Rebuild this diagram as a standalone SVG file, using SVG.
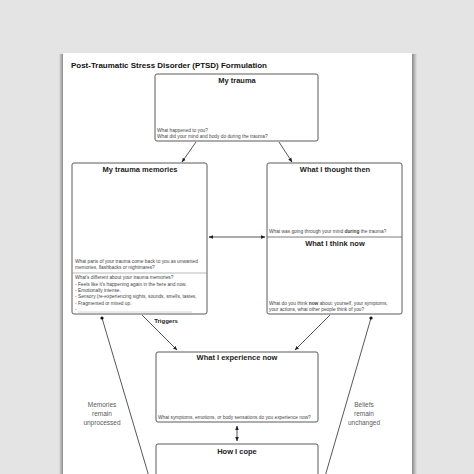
<svg xmlns="http://www.w3.org/2000/svg" width="474" height="474" viewBox="0 0 474 474">
<defs>
<style>
.box{fill:#fff;stroke:#5a5a5a;stroke-width:1}
.t{font-family:"Liberation Sans",Arial,sans-serif;font-weight:bold;font-size:7.5px;fill:#222;text-anchor:middle}
.s{font-family:"Liberation Sans",Arial,sans-serif;font-size:4.8px;fill:#444}
.lbl{font-family:"Liberation Sans",Arial,sans-serif;font-size:6.5px;fill:#5a5a5a;text-anchor:middle}
.con{stroke:#444;stroke-width:0.9;fill:none}
</style>
<marker id="ah" viewBox="0 0 10 10" refX="9" refY="5" markerWidth="5" markerHeight="5" orient="auto-start-reverse"><path d="M0,1 L10,5 L0,9 z" fill="#222"/></marker>
<marker id="dot" viewBox="0 0 10 10" refX="5" refY="5" markerWidth="4" markerHeight="4"><circle cx="5" cy="5" r="4.5" fill="#111"/></marker>
<linearGradient id="shL" x1="0" x2="1"><stop offset="0" stop-color="#e2e2e2"/><stop offset="1" stop-color="#8a8a8a"/></linearGradient>
<linearGradient id="shR" x1="0" x2="1"><stop offset="0" stop-color="#8a8a8a"/><stop offset="1" stop-color="#e2e2e2"/></linearGradient>
</defs>
<rect x="0" y="0" width="474" height="474" fill="#e4e4e4"/>
<rect x="59" y="54" width="4" height="420" fill="url(#shL)"/>
<rect x="412" y="54" width="5" height="420" fill="url(#shR)"/>
<rect x="63" y="53" width="349" height="421" fill="#fff"/>
<text x="71" y="68" font-family="'Liberation Sans',Arial,sans-serif" font-weight="bold" font-size="7.2px" fill="#111" textLength="196" lengthAdjust="spacingAndGlyphs">Post-Traumatic Stress Disorder (PTSD) Formulation</text>

<g id="connectors">
<line class="con" x1="196" y1="142" x2="182" y2="162" marker-end="url(#ah)"/>
<line class="con" x1="279" y1="142" x2="292" y2="162" marker-end="url(#ah)"/>
<line class="con" x1="209" y1="237" x2="265" y2="237" marker-start="url(#ah)" marker-end="url(#ah)"/>
<line class="con" x1="142" y1="315" x2="177" y2="350" marker-end="url(#ah)"/>
<line class="con" x1="330" y1="315" x2="295" y2="350" marker-end="url(#ah)"/>
<line class="con" x1="237" y1="426" x2="237" y2="441" marker-start="url(#ah)" marker-end="url(#ah)"/>
<line class="con" x1="150" y1="480" x2="102" y2="318" marker-end="url(#dot)"/>
<line class="con" x1="324" y1="480" x2="371" y2="318" marker-end="url(#dot)"/>
<text x="166" y="323" font-family="'Liberation Sans',Arial,sans-serif" font-weight="bold" font-size="6px" fill="#222" text-anchor="middle">Triggers</text>
<text class="lbl" x="102" y="407">Memories</text>
<text class="lbl" x="102" y="416">remain</text>
<text class="lbl" x="102" y="425">unprocessed</text>
<text class="lbl" x="364" y="407">Beliefs</text>
<text class="lbl" x="364" y="416">remain</text>
<text class="lbl" x="364" y="425">unchanged</text>
</g>

<g id="my-trauma">
<rect class="box" x="155" y="74" width="163" height="67" rx="2"/>
<text class="t" x="237" y="83">My trauma</text>
<text class="s" x="157" y="132">What happened to you?</text>
<text class="s" x="157" y="138">What did your mind and body do during the trauma?</text>
</g>

<g id="my-trauma-memories">
<rect class="box" x="72" y="163" width="135" height="151" rx="2"/>
<text class="t" x="140" y="172">My trauma memories</text>
<text class="s" x="75" y="263">What parts of your trauma come back to you as unwanted</text>
<text class="s" x="75" y="269">memories, flashbacks or nightmares?</text>
<line x1="72" y1="273" x2="207" y2="273" stroke="#8a8a8a" stroke-width="0.6"/>
<text class="s" x="75" y="279">What's different about your trauma memories?</text>
<text class="s" x="75" y="286">- Feels like it's happening again in the here and now.</text>
<text class="s" x="75" y="292">- Emotionally intense.</text>
<text class="s" x="75" y="298">- Sensory (re-experiencing sights, sounds, smells, tastes,</text>
<text class="s" x="75" y="305">- Fragmented or mixed up.</text>
<text class="s" x="75" y="311">-</text>
<line x1="78" y1="312" x2="192" y2="312" stroke="#aaa" stroke-width="0.5"/>
</g>

<g id="what-i-thought-then">
<rect class="box" x="267" y="163" width="135" height="151" rx="2"/>
<text class="t" x="335" y="172">What I thought then</text>
<text class="s" x="269" y="233">What was going through your mind <tspan font-weight="bold">during</tspan> the trauma?</text>
<line x1="267" y1="237" x2="402" y2="237" stroke="#5a5a5a" stroke-width="0.8"/>
</g>

<g id="what-i-think-now">
<text class="t" x="335" y="246">What I think now</text>
<text class="s" x="269" y="305">What do you think <tspan font-weight="bold">now</tspan> about: yourself, your symptoms,</text>
<text class="s" x="269" y="311">your actions, what other people think of you?</text>
</g>

<g id="what-i-experience-now">
<rect class="box" x="156" y="352" width="162" height="70" rx="2"/>
<text class="t" x="237" y="360">What I experience now</text>
<text class="s" x="158" y="419">What symptoms, emotions, or body sensations do you experience now?</text>
</g>

<g id="how-i-cope">
<rect class="box" x="156" y="444" width="162" height="40" rx="2"/>
<text class="t" x="237" y="454">How I cope</text>
</g>
</svg>
